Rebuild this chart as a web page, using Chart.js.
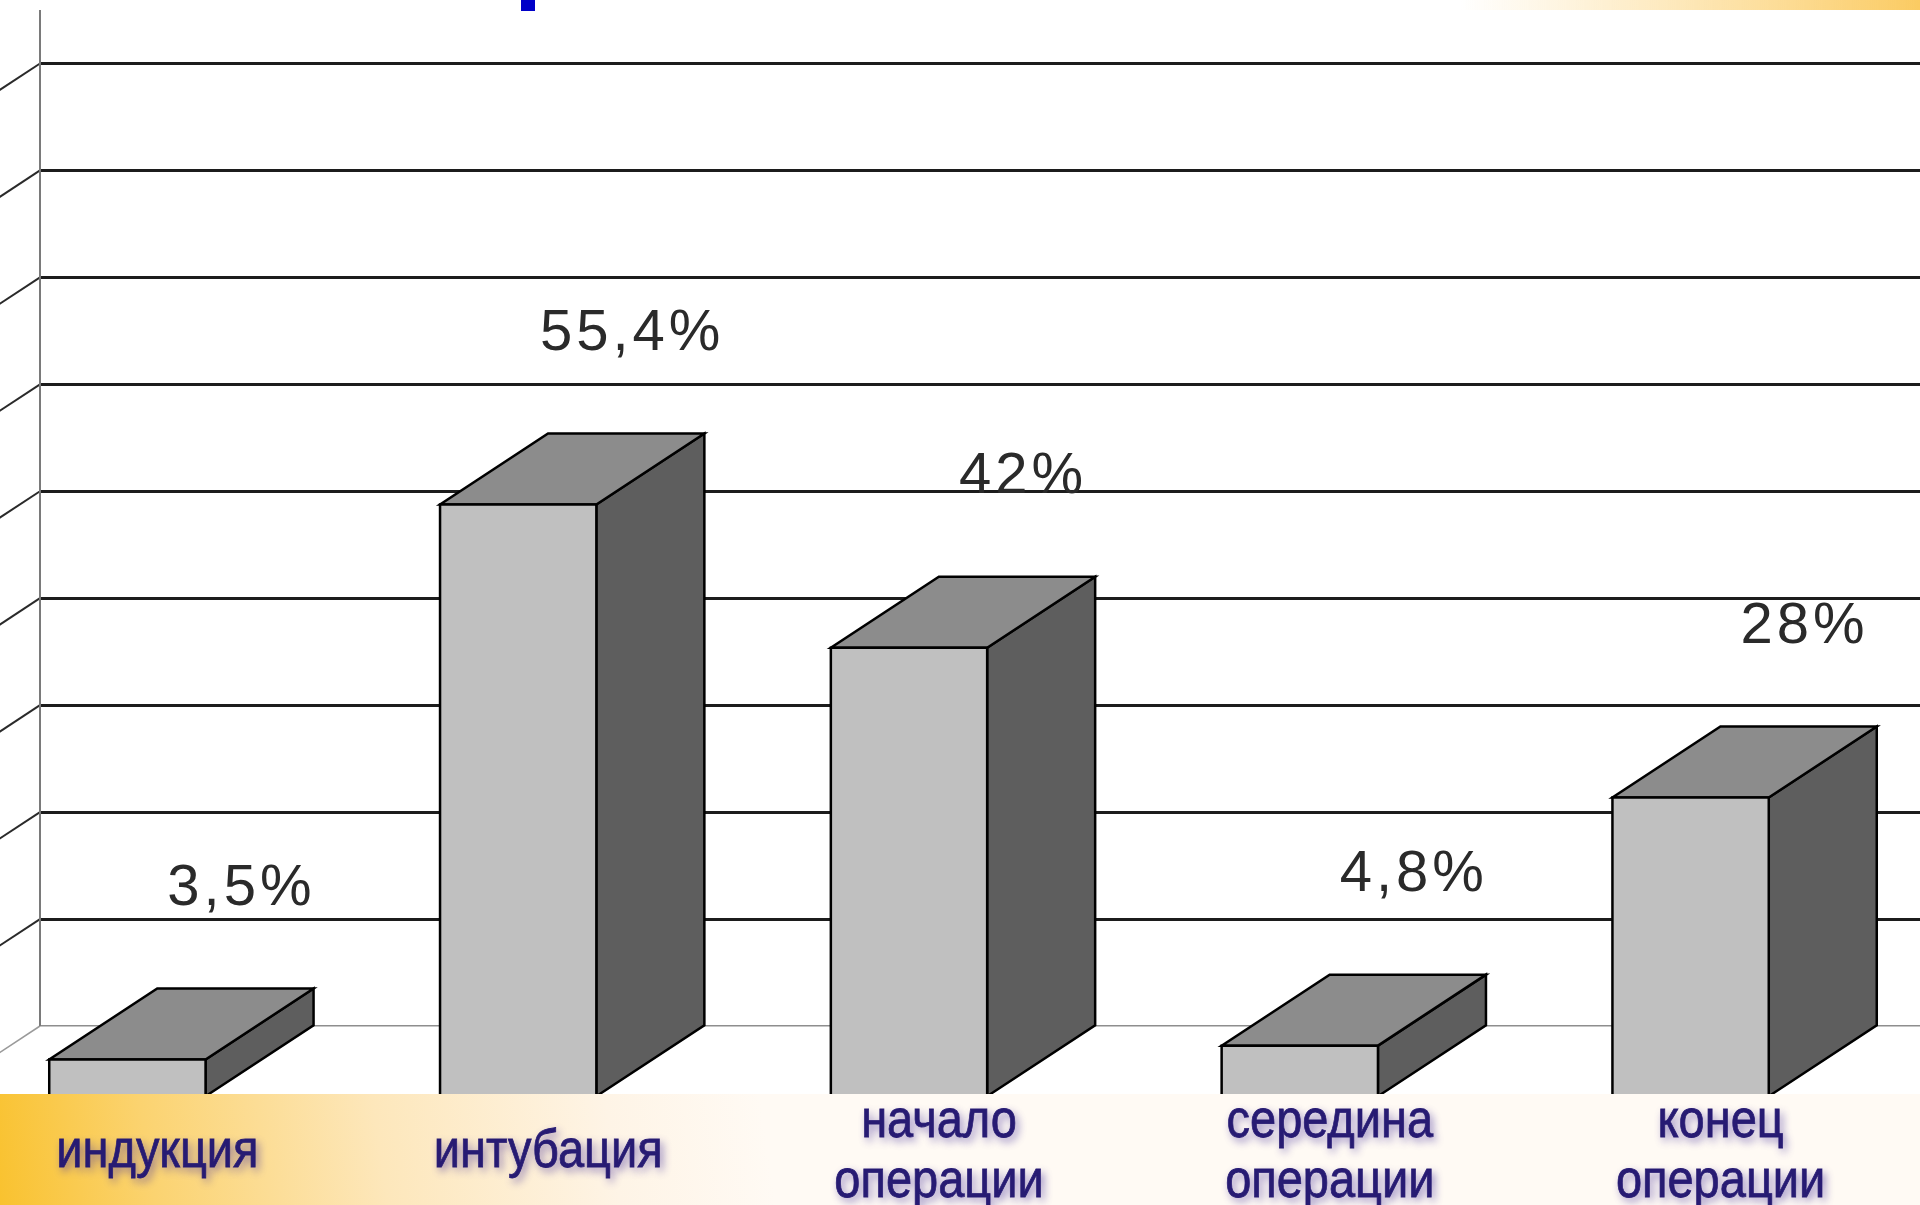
<!DOCTYPE html>
<html>
<head>
<meta charset="utf-8">
<script src="https://cdn.jsdelivr.net/npm/chart.js@4.4.1/dist/chart.umd.min.js"></script>
<style>
  html, body { margin: 0; padding: 0; overflow: hidden; background: #fff; width: 1920px; height: 1205px; }
  #wrap { position: absolute; left: 0; top: 0; width: 2000px; height: 1205px; }
</style>
</head>
<body>
<div id="wrap"><canvas id="chart"></canvas></div>
<script>
// data
var categories = [['индукция'], ['интубация'], ['начало', 'операции'], ['середина', 'операции'], ['конец', 'операции']];
var values = [3.5, 55.4, 42, 4.8, 28];
var valueLabels = ['3,5%', '55,4%', '42%', '4,8%', '28%'];
var yMax = 95;
var yStep = 10;

// 3d look
var DX = 108, DY = 71;

function poly(ctx, pts, fill) {
  ctx.beginPath();
  ctx.moveTo(pts[0][0], pts[0][1]);
  for (var i = 1; i < pts.length; i++) ctx.lineTo(pts[i][0], pts[i][1]);
  ctx.closePath();
  ctx.fillStyle = fill;
  ctx.fill();
  ctx.stroke();
}

var wallPlugin = {
  id: 'wall',
  beforeDatasetsDraw: function (chart) {
    var ctx = chart.ctx, area = chart.chartArea, y = chart.scales.y;
    ctx.save();
    // side wall lines running off to the left
    for (var v = 0; v < yMax; v += yStep) {
      var py = y.getPixelForValue(v);
      ctx.beginPath();
      ctx.moveTo(area.left, py);
      ctx.lineTo(area.left - DX * 1.5, py + DY * 1.5);
      ctx.strokeStyle = v === 0 ? '#9a9a9a' : '#2a2a2a';
      ctx.lineWidth = v === 0 ? 1.5 : 2;
      ctx.stroke();
    }
    // back wall left edge
    ctx.beginPath();
    ctx.moveTo(area.left, area.top);
    ctx.lineTo(area.left, area.bottom);
    ctx.strokeStyle = '#7a7a7a';
    ctx.lineWidth = 2;
    ctx.stroke();
    ctx.restore();
  }
};

var boxPlugin = {
  id: 'box3d',
  afterDatasetsDraw: function (chart) {
    var ctx = chart.ctx;
    var meta = chart.getDatasetMeta(0);
    ctx.save();
    ctx.lineWidth = 2.5;
    ctx.strokeStyle = '#000';
    ctx.lineJoin = 'miter';
    meta.data.forEach(function (bar, i) {
      var p = bar.getProps(['x', 'y', 'base', 'width'], true);
      var bl = p.x - p.width / 2, br = p.x + p.width / 2, bt = p.y, bb = p.base;
      var fl = bl - DX, fr = br - DX, ft = bt + DY, fb = bb + DY;
      poly(ctx, [[fr, ft], [br, bt], [br, bb], [fr, fb]], '#5e5e5e');
      poly(ctx, [[fl, ft], [fr, ft], [br, bt], [bl, bt]], '#8c8c8c');
      poly(ctx, [[fl, ft], [fr, ft], [fr, fb], [fl, fb]], '#c0c0c0');

      ctx.save();
      ctx.font = '58px "Liberation Sans", Arial, sans-serif';
      ctx.letterSpacing = '4px';
      ctx.fillStyle = '#2a2a2a';
      ctx.textAlign = 'center';
      ctx.textBaseline = 'middle';
      ctx.fillText(valueLabels[i], p.x + 6, bt - 100);
      ctx.restore();
    });
    ctx.restore();
  }
};

var bandPlugin = {
  id: 'band',
  afterDraw: function (chart) {
    var ctx = chart.ctx;
    var meta = chart.getDatasetMeta(0);
    var top = 1094, h = 1205 - top;
    ctx.save();
    // label band
    var g = ctx.createLinearGradient(0, 1205, 760, top);
    g.addColorStop(0, '#f9c22f');
    g.addColorStop(0.2, '#fbd370');
    g.addColorStop(0.5, '#fde7bb');
    g.addColorStop(0.8, '#fef4e6');
    g.addColorStop(1, '#fffaf4');
    ctx.fillStyle = g;
    ctx.fillRect(0, top, 1920, h);
    // top right strip
    var g2 = ctx.createLinearGradient(1460, 0, 1920, 0);
    g2.addColorStop(0, 'rgba(252,210,120,0)');
    g2.addColorStop(1, '#fbcb62');
    ctx.fillStyle = g2;
    ctx.fillRect(1460, 0, 460, 10);
    // bit of the slide title
    ctx.fillStyle = '#0000c8';
    ctx.fillRect(521, 0, 14, 11);

    // category labels
    ctx.font = '54px "Liberation Sans", Arial, sans-serif';
    ctx.textAlign = 'center';
    ctx.textBaseline = 'middle';
    ctx.fillStyle = '#271b73';
    ctx.strokeStyle = '#271b73';
    ctx.lineWidth = 0.8;
    meta.data.forEach(function (bar, i) {
      var lines = categories[i];
      var cx = bar.x - 78;
      var lh = 60, cy0 = 1152 - (lines.length - 1) * lh / 2;
      lines.forEach(function (t, k) {
        ctx.save();
        ctx.translate(cx, cy0 + k * lh);
        ctx.scale(0.87, 1);
        ctx.shadowColor = 'rgba(80,60,160,0.7)';
        ctx.shadowBlur = 8;
        ctx.shadowOffsetX = 3;
        ctx.shadowOffsetY = 4;
        ctx.fillText(t, 0, 0);
        ctx.shadowColor = 'rgba(0,0,0,0)';
        ctx.strokeText(t, 0, 0);
        ctx.restore();
      });
    });
    ctx.restore();
  }
};

new Chart(document.getElementById('chart').getContext('2d'), {
  type: 'bar',
  data: {
    labels: categories,
    datasets: [{
      data: values,
      backgroundColor: 'rgba(0,0,0,0)',
      borderWidth: 0,
      barPercentage: 0.4,
      categoryPercentage: 1.0
    }]
  },
  options: {
    responsive: true,
    maintainAspectRatio: false,
    animation: false,
    layout: { padding: { left: 40, right: 6, top: 10, bottom: 179 } },
    plugins: {
      legend: { display: false },
      tooltip: { enabled: false }
    },
    scales: {
      x: { display: false },
      y: {
        min: 0,
        max: yMax,
        border: { display: false },
        ticks: { display: false, stepSize: yStep },
        grid: {
          drawTicks: false,
          color: function (c) {
            var v = c.tick ? c.tick.value : 0;
            if (v === 0) return '#8e8e8e';
            if (v % yStep !== 0) return 'rgba(0,0,0,0)';
            return '#1c1c1c';
          },
          lineWidth: function (c) {
            var v = c.tick ? c.tick.value : 0;
            return v === 0 ? 1.5 : 3;
          }
        }
      }
    }
  },
  plugins: [wallPlugin, boxPlugin, bandPlugin]
});
</script>
</body>
</html>
